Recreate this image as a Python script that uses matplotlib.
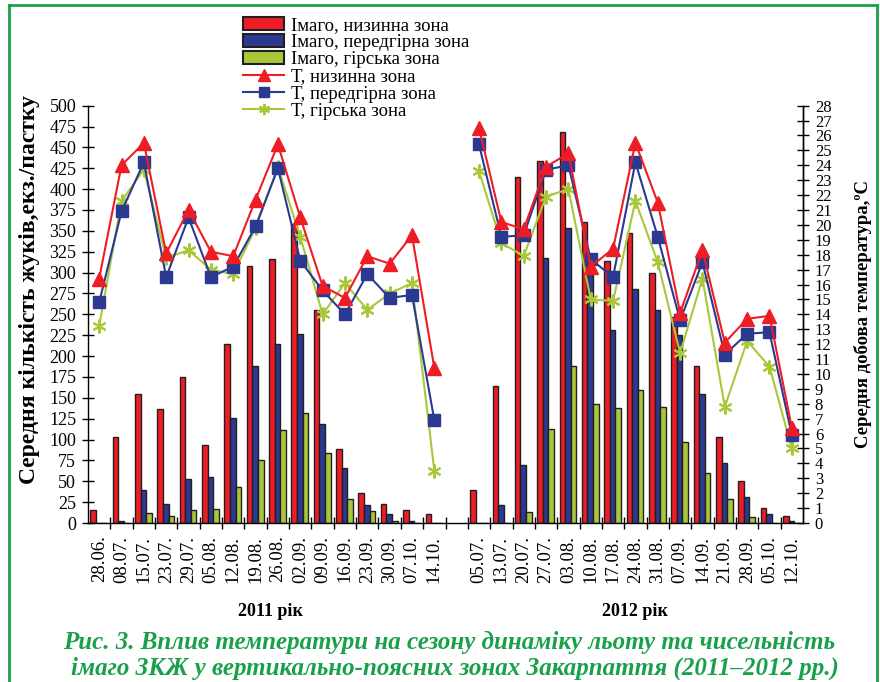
import numpy as np
import matplotlib
matplotlib.use("Agg")
import matplotlib.pyplot as plt
from matplotlib.lines import Line2D
from matplotlib.patches import Patch

plt.rcParams['font.family'] = ['Liberation Serif', 'DejaVu Serif']

# dates of trap checks
dates_2011 = ['28.06.', '08.07.', '15.07.', '23.07.', '29.07.', '05.08.', '12.08.', '19.08.',
              '26.08.', '02.09.', '09.09.', '16.09.', '23.09.', '30.09.', '07.10.', '14.10.']
dates_2012 = ['05.07.', '13.07.', '20.07.', '27.07.', '03.08.', '10.08.', '17.08.', '24.08.',
              '31.08.', '07.09.', '14.09.', '21.09.', '28.09.', '05.10.', '12.10.']

# mean number of beetles per trap
imago_low_2011 = [16, 103, 155, 136, 175, 93, 215, 308, 316, 358, 255, 89, 36, 23, 16, 11]
imago_mid_2011 = [0, 2, 40, 23, 53, 55, 126, 188, 215, 226, 119, 66, 22, 11, 2, 0]
imago_mount_2011 = [0, 0, 12, 9, 16, 17, 43, 75, 111, 132, 84, 29, 14, 2, 0, 0]
imago_low_2012 = [39, 164, 414, 434, 469, 361, 314, 348, 300, 247, 188, 103, 50, 18, 9]
imago_mid_2012 = [0, 22, 70, 318, 354, 310, 231, 280, 255, 225, 154, 72, 31, 11, 3]
imago_mount_2012 = [0, 0, 13, 113, 188, 143, 138, 159, 139, 97, 60, 29, 7, 0, 0]

# mean daily temperature, C
t_low_2011 = [16.4, 24.0, 25.5, 18.1, 21.0, 18.2, 17.9, 21.7, 25.4, 20.5, 15.9, 15.1, 17.9, 17.4, 19.3, 10.4]
t_mid_2011 = [14.8, 20.9, 24.2, 16.5, 20.5, 16.5, 17.2, 19.9, 23.8, 17.6, 15.6, 14.0, 16.7, 15.1, 15.3, 6.9]
t_mount_2011 = [13.2, 21.6, 23.7, 17.8, 18.3, 17.0, 16.7, 19.8, 23.9, 19.2, 14.0, 16.1, 14.3, 15.4, 16.1, 3.5]
t_low_2012 = [26.5, 20.2, 19.7, 23.9, 24.8, 17.2, 18.4, 25.5, 21.5, 14.1, 18.3, 12.1, 13.7, 13.9, 6.4]
t_mid_2012 = [25.4, 19.2, 19.3, 23.7, 24.0, 17.7, 16.5, 24.2, 19.2, 13.6, 17.5, 11.3, 12.7, 12.8, 5.9]
t_mount_2012 = [23.6, 18.8, 17.9, 21.9, 22.4, 15.0, 14.9, 21.6, 17.5, 11.4, 16.4, 7.8, 12.2, 10.5, 5.0]

red = '#ee1c25'
blue = '#2b3990'
green = '#a8c83a'
edge = '#231f20'
frame_green = '#19a04b'

# 2011, one empty slot, then 2012
x11 = np.arange(len(dates_2011))
x12 = np.arange(len(dates_2012)) + len(dates_2011) + 1
n_slots = len(dates_2011) + 1 + len(dates_2012)

fig = plt.figure(figsize=(8.8, 6.82), dpi=100)
ax = fig.add_axes([0.1, 0.2331, 0.8125, 0.612])
ax2 = ax.twinx()

w = 0.25
for xs, lo, mid, mt in [(x11, imago_low_2011, imago_mid_2011, imago_mount_2011),
                        (x12, imago_low_2012, imago_mid_2012, imago_mount_2012)]:
    ax.bar(xs - 0.27, lo, w, color=red, edgecolor=edge, linewidth=1.0)
    ax.bar(xs - 0.02, mid, w, color=blue, edgecolor=edge, linewidth=1.0)
    ax.bar(xs + 0.23, mt, w, color=green, edgecolor=edge, linewidth=1.0)

star = (6, 2, 0)
for xs, lo, mid, mt in [(x11, t_low_2011, t_mid_2011, t_mount_2011),
                        (x12, t_low_2012, t_mid_2012, t_mount_2012)]:
    ax2.plot(xs, mt, color=green, lw=1.5, marker=star, ms=10, mew=1.5)
    ax2.plot(xs, mid, color=blue, lw=1.5, marker='s', ms=8.5)
    ax2.plot(xs, lo, color=red, lw=1.5, marker='^', ms=10)

ax.set_xlim(-0.5, n_slots - 0.5)
ax.set_ylim(0, 500)
ax2.set_ylim(0, 28)

ax.set_xticks(list(x11) + list(x12))
ax.set_xticklabels(dates_2011 + dates_2012, rotation=90, fontsize=13.5)
ax.tick_params(axis='x', which='major', length=0, pad=9)
ax.set_xticks(np.arange(0.5, n_slots - 0.5, 1), minor=True)
ax.tick_params(axis='x', which='minor', direction='inout', length=9, width=1)

ax.set_yticks(np.arange(0, 501, 25))
ax.tick_params(axis='y', direction='inout', length=9, width=1, labelsize=13, pad=4)
ax2.set_yticks(np.arange(0, 29, 1))
ax2.tick_params(axis='y', direction='inout', length=9, width=1, labelsize=12, pad=4)

for a in (ax, ax2):
    a.spines['top'].set_visible(False)
    for s in a.spines.values():
        s.set_linewidth(1.0)
ax2.spines['left'].set_visible(False)
ax2.spines['bottom'].set_visible(False)

ax.set_ylabel('Середня кількість жуків,екз./пастку', fontsize=17, fontweight='bold')
ax.yaxis.set_label_coords(-0.067, 0.56)
ax2.set_ylabel('Середня добова температура,ºС', fontsize=13.5, fontweight='bold', labelpad=16)

fig.text(270 / 880, 1 - 611 / 682, '2011 рік', ha='center', va='center', fontsize=13, fontweight='bold')
fig.text(635 / 880, 1 - 611 / 682, '2012 рік', ha='center', va='center', fontsize=13, fontweight='bold')

fig.text(449 / 880, 1 - 642 / 682, 'Рис. 3. Вплив температури на сезону динаміку льоту та чисельність',
         ha='center', va='center', fontsize=18, fontweight='bold', style='italic', color=frame_green)
fig.text(455 / 880, 1 - 668 / 682, 'імаго ЗКЖ у вертикально-поясних зонах Закарпаття (2011–2012 рр.)',
         ha='center', va='center', fontsize=18, fontweight='bold', style='italic', color=frame_green)

handles = [Patch(facecolor=red, edgecolor=edge, linewidth=1.5),
           Patch(facecolor=blue, edgecolor=edge, linewidth=1.5),
           Patch(facecolor=green, edgecolor=edge, linewidth=1.5),
           Line2D([], [], color=red, lw=1.5, marker='^', ms=8),
           Line2D([], [], color=blue, lw=1.5, marker='s', ms=7),
           Line2D([], [], color=green, lw=1.5, marker=star, ms=8, mew=1.5)]
labels = ['Імаго, низинна зона', 'Імаго, передгірна зона', 'Імаго, гірська зона',
          'Т, низинна зона', 'Т, передгірна зона', 'Т, гірська зона']
fig.legend(handles, labels, loc='upper left', bbox_to_anchor=(243 / 880, 1 - 17 / 682),
           frameon=False, fontsize=13.5, handlelength=2.2, handleheight=0.7,
           handletextpad=0.35, labelspacing=0.0, borderpad=0, borderaxespad=0)

# green frame around the figure
fig.add_artist(Line2D([9 / 880, 9 / 880], [0, 1 - 5 / 682], color=frame_green, lw=2))
fig.add_artist(Line2D([9 / 880, 877 / 880], [1 - 5 / 682, 1 - 5 / 682], color=frame_green, lw=2))
fig.add_artist(Line2D([877 / 880, 877 / 880], [0, 1 - 5 / 682], color=frame_green, lw=2))

fig.savefig('out.png', dpi=100)
